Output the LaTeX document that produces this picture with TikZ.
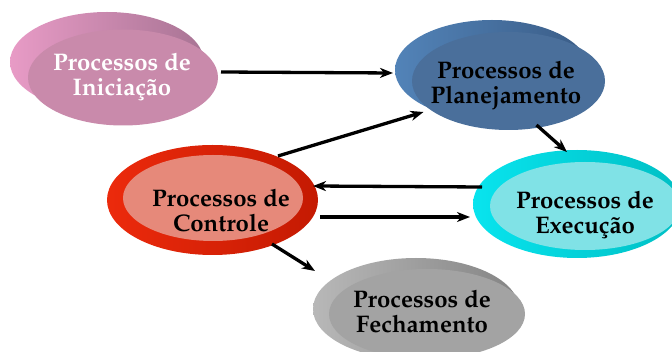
\documentclass[tikz,border=0pt]{standalone}
\usepackage[T1]{fontenc}
\usepackage{mathpazo}
\usetikzlibrary{shapes.geometric,arrows.meta}

\definecolor{iniF}{HTML}{C98AAB}
\definecolor{iniL}{HTML}{E89BC6}
\definecolor{iniR}{HTML}{A87494}
\definecolor{plaF}{HTML}{4A6F9B}
\definecolor{plaL}{HTML}{5283B8}
\definecolor{plaR}{HTML}{3A5C86}
\definecolor{ctlF}{HTML}{E6897A}
\definecolor{ctlL}{HTML}{EC2A0C}
\definecolor{ctlR}{HTML}{C41A02}
\definecolor{exeF}{HTML}{80E2E6}
\definecolor{exeL}{HTML}{08E4EE}
\definecolor{exeR}{HTML}{00BFC4}
\definecolor{fecF}{HTML}{A3A3A3}
\definecolor{fecL}{HTML}{B8B8B8}
\definecolor{fecR}{HTML}{848484}

\tikzset{
  face/.style={ellipse, inner sep=0pt, outer sep=0pt},
  label text/.style={align=center, font=\bfseries\fontsize{24}{25}\selectfont},
  flow/.style={line width=3.3pt, -{Stealth[length=13pt,width=10pt,inset=4pt]}, shorten <=0pt}
}

\begin{document}
\begin{tikzpicture}[x=1pt,y=-1pt]
\useasboundingbox (0,0) rectangle (672,352);

% Iniciacao
\shade[left color=iniL, right color=iniR] (107,62) ellipse [x radius=97, y radius=50];
\node[face, fill=iniF, minimum width=190pt, minimum height=96pt] (ini) at (123,77.5) {};
\node[label text, text=white] (iniT) at (122,77) {Processos de\\Inicia\c{c}\~ao};

% Planejamento
\shade[left color=plaL, right color=plaR] (492,70) ellipse [x radius=97, y radius=50];
\node[face, fill=plaF, minimum width=193pt, minimum height=98pt] (pla) at (508.5,81) {};
\node[label text] (plaT) at (506,85) {Processos de\\Planejamento};

% Controle
\shade[left color=ctlL, right color=ctlR] (212.5,200) ellipse [x radius=105.5, y radius=55];
\node[face, fill=ctlF, minimum width=180pt, minimum height=86pt] (ctl) at (213,198) {};
\node[label text] (ctlT) at (221,210) {Processos de\\Controle};

% Execucao
\shade[left color=exeL, right color=exeR] (577,204) ellipse [x radius=104, y radius=54];
\node[face, fill=exeF, minimum width=190pt, minimum height=88pt] (exe) at (585,206) {};
\node[label text] (exeT) at (585,215) {Processos de\\Execu\c{c}\~ao};

% Fechamento
\shade[left color=fecL, right color=fecR] (416,309) ellipse [x radius=103, y radius=51];
\node[face, fill=fecF, minimum width=196pt, minimum height=90pt] (fec) at (427,314) {};
\node[label text] (fecT) at (422,311) {Processos de\\Fechamento};

% Connectors
\draw[flow] ([shift={(3,-5.5)}]ini.east) -- ([shift={(-19,-8)}]pla.west);
\draw[flow] ([shift={(65,-42)}]ctl.center) -- ([shift={(-85,31)}]pla.center);
\draw[flow] ([shift={(28,44)}]pla.center) -- ([shift={(-18,-54)}]exe.center);
\draw[flow] ([shift={(-103,-19)}]exe.center) -- ([shift={(100,-12)}]ctl.center);
\draw[flow] ([shift={(107,19)}]ctl.center) -- ([shift={(-115,11)}]exe.center);
\draw[flow] ([shift={(59,46)}]ctl.center) -- ([shift={(-112,-43)}]fec.center);
\end{tikzpicture}
\end{document}
